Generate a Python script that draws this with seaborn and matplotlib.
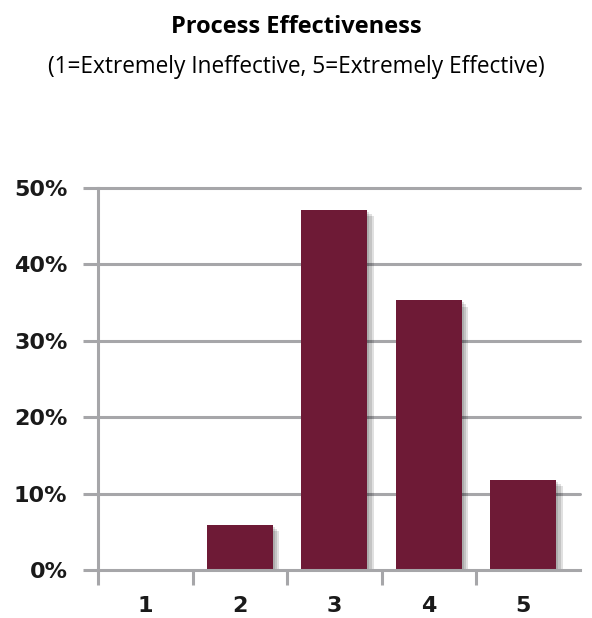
import matplotlib
matplotlib.use("Agg")
import matplotlib.pyplot as plt
import matplotlib.patheffects as pe
from matplotlib.ticker import FuncFormatter
import pandas as pd
import seaborn as sns

# survey results, share of responses per rating
ratings = ["1", "2", "3", "4", "5"]
shares = [0.0, 5.9, 47.1, 35.3, 11.8]
y_ticks = [0, 10, 20, 30, 40, 50]

title = "Process Effectiveness"
subtitle = "(1=Extremely Ineffective, 5=Extremely Effective)"

df = pd.DataFrame({"rating": ratings, "share": shares})

sns.set_style("white")
plt.rcParams["font.family"] = ["DejaVu Sans"]

grey = "#a6a6a9"
bar_color = "#6e1a36"

fig = plt.figure(figsize=(5.92, 6.18), dpi=100)
ax = fig.add_axes([98 / 592, 1 - 570 / 618, (580 - 98) / 592, (570 - 188) / 618])

sns.barplot(data=df, x="rating", y="share", color=bar_color, width=0.7,
            saturation=1, linewidth=0, edgecolor="none", ax=ax, zorder=3)
# soft drop shadow like the original
shadow = [pe.SimplePatchShadow(offset=(d, -d), shadow_rgbFace="#000000", alpha=0.12)
          for d in (4.5, 3.0, 1.5)]
for p in ax.patches:
    p.set_path_effects(shadow + [pe.Normal()])

ax.set_ylim(0, 50)
ax.set_xlim(-0.5, 4.6)
ax.set_yticks(y_ticks)
ax.yaxis.set_major_formatter(FuncFormatter(lambda v, _: f"{v:.0f}%"))
for v in y_ticks[1:]:
    ax.axhline(v, color=grey, lw=2.2, zorder=1, clip_on=False)

ax.set_xticks([-0.5, 0.5, 1.5, 2.5, 3.5])
ax.set_xticks(range(5), minor=True)
ax.set_xticklabels([])
ax.set_xticklabels(ratings, minor=True)
ax.tick_params(axis="x", which="major", direction="out", length=11, width=2.2,
               color=grey, bottom=True)
ax.tick_params(axis="x", which="minor", length=0, pad=19, labelsize=16)
ax.tick_params(axis="y", direction="out", length=11, width=2.2, color=grey,
               left=True, pad=11, labelsize=16)
for lab in ax.get_xticklabels(minor=True) + ax.get_yticklabels():
    lab.set_fontweight("bold")
    lab.set_color("#1a1a1a")

for s in ["top", "right"]:
    ax.spines[s].set_visible(False)
for s in ["left", "bottom"]:
    ax.spines[s].set_color(grey)
    ax.spines[s].set_linewidth(2.2)
    ax.spines[s].set_zorder(4)
ax.set_xlabel("")
ax.set_ylabel("")

fig.text(0.5, 1 - 27 / 618, title, ha="center", va="center", fontsize=17,
         fontweight="bold", family="Open Sans", color="black")
fig.text(0.5, 1 - 67 / 618, subtitle, ha="center", va="center", fontsize=16.3,
         family="Open Sans", color="black")

fig.savefig("out.png", dpi=100)
